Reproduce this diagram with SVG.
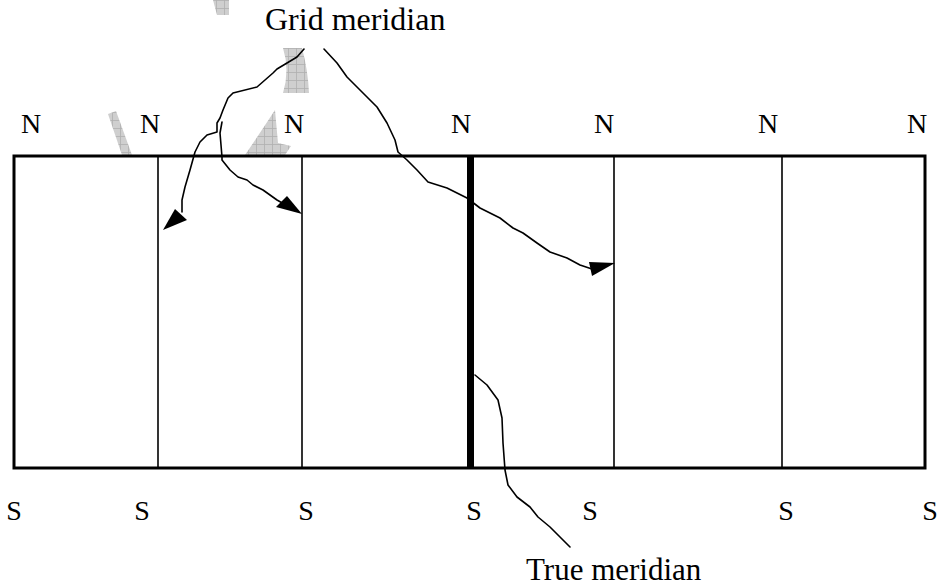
<svg xmlns="http://www.w3.org/2000/svg" width="941" height="588" viewBox="0 0 941 588">
<style>
text{font-family:"Liberation Serif","Times New Roman",serif;font-size:28px;fill:#000}
.frame{fill:none;stroke:#000;stroke-width:3}
.div{stroke:#000;stroke-width:1.6}
.curve{fill:none;stroke:#000;stroke-width:1.6;stroke-linejoin:round;stroke-linecap:round}
.wm{fill:url(#grid)}
</style>
<defs>
<pattern id="grid" width="8" height="8" patternUnits="userSpaceOnUse">
<rect width="8" height="8" fill="#cfcfcf"/>
<path d="M0 0.5H8M0.5 0V8" stroke="#b0b0b0" stroke-width="0.8"/>
</pattern>
</defs>
<g id="watermark">
<polygon class="wm" points="213,0 229,0 229,15 217,15"/>
<path class="wm" d="M283,48 L302,48 Q308,70 309,93 L283,93 Q290,70 283,48 Z"/>
<path class="wm" d="M275,110 L278,143 L291,146 L285,155 L245,155 Q262,130 275,110 Z"/>
<polygon class="wm" points="108,114 116,111 132,155 122,155"/>
</g>
<g id="grid-frame">
<rect class="frame" x="14" y="156" width="911" height="312"/>
<line class="div" x1="158" y1="156" x2="158" y2="468"/>
<line class="div" x1="302" y1="156" x2="302" y2="468"/>
<line class="div" x1="614" y1="156" x2="614" y2="468"/>
<line class="div" x1="782" y1="156" x2="782" y2="468"/>
</g>
<g id="true-meridian-line">
<rect x="467" y="156" width="7" height="312" fill="#000"/>
</g>
<g id="labels-n">
<text x="31" y="133" text-anchor="middle">N</text>
<text x="150" y="133" text-anchor="middle">N</text>
<text x="294" y="133" text-anchor="middle">N</text>
<text x="461" y="133" text-anchor="middle">N</text>
<text x="604" y="133" text-anchor="middle">N</text>
<text x="768" y="133" text-anchor="middle">N</text>
<text x="917" y="133" text-anchor="middle">N</text>
</g>
<g id="labels-s">
<text x="14" y="520" text-anchor="middle">S</text>
<text x="142" y="520" text-anchor="middle">S</text>
<text x="306" y="520" text-anchor="middle">S</text>
<text x="474" y="520" text-anchor="middle">S</text>
<text x="590" y="520" text-anchor="middle">S</text>
<text x="786" y="520" text-anchor="middle">S</text>
<text x="930" y="520" text-anchor="middle">S</text>
</g>
<g id="grid-meridian-label">
<text x="265" y="30" style="font-size:32px">Grid meridian</text>
</g>
<g id="true-meridian-label">
<text x="526" y="580" style="font-size:31px">True meridian</text>
</g>
<g id="connectors">
<path class="curve" d="M304,49 L297,57 L287,63 L277,69 L273,73 L257,87 L233,93 L228,98 L223,110 L220,118 L217,123 L217,132 L207,135 L200,142 L195,152 L190,170 L185,187 L182,200 L182,212"/>
<polygon points="163,230 175,209 187,220" fill="#000"/>
<path class="curve" d="M222,122 L220,133 L222,157 L222,160 L230,170 L238,177 L247,180 L253,185 L263,190 L277,200 L284,204"/>
<polygon points="302,214 276,207 287,196" fill="#000"/>
<path class="curve" d="M324,49 L337,63 L347,77 L367,97 L377,107 L387,123 L395,140 L398,152 L407,160 L417,170 L428,182 L447,188 L467,198 L480,208 L500,218 L513,228 L523,233 L537,243 L550,252 L567,258 L580,265 L592,269"/>
<polygon points="615,263 589,262 592,276" fill="#000"/>
<path class="curve" d="M475,375 L487,385 L498,400 L502,418 L503,443 L505,470 L508,485 L517,497 L530,507 L538,517 L550,527 L560,537 L570,547"/>
</g>
</svg>
